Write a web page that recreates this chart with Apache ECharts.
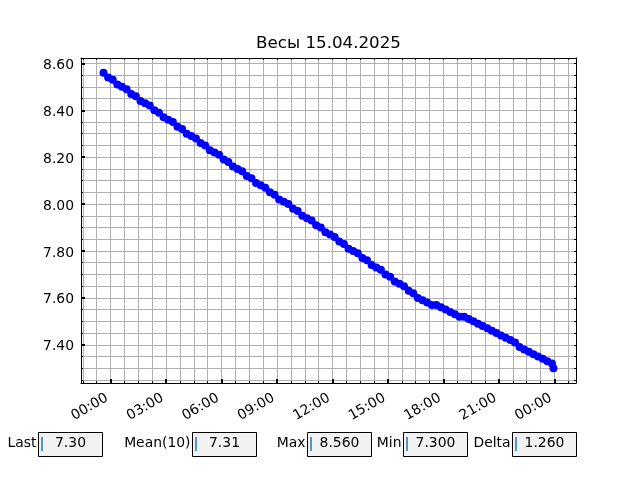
<!DOCTYPE html>
<html><head><meta charset="utf-8">
<script src="https://cdn.jsdelivr.net/npm/echarts@6/dist/echarts.min.js"></script>
<style>html,body{margin:0;padding:0;background:#fff}#c{width:640px;height:480px}</style>
</head><body><div id="c"></div>
<script>
const chartTitle = 'Весы 15.04.2025';
// timestamps "DD HH:MM" (April 2025)
const times = [
 '14 23:37','14 23:52',
 '15 00:07','15 00:22','15 00:37','15 00:52','15 01:07','15 01:22','15 01:37','15 01:52',
 '15 02:07','15 02:22','15 02:37','15 02:52','15 03:07','15 03:22','15 03:37','15 03:52',
 '15 04:07','15 04:22','15 04:37','15 04:52','15 05:07','15 05:22','15 05:37','15 05:52',
 '15 06:07','15 06:22','15 06:37','15 06:52','15 07:07','15 07:22','15 07:37','15 07:52',
 '15 08:07','15 08:22','15 08:37','15 08:52','15 09:07','15 09:22','15 09:37','15 09:52',
 '15 10:07','15 10:22','15 10:37','15 10:52','15 11:07','15 11:22','15 11:37','15 11:52',
 '15 12:07','15 12:22','15 12:37','15 12:52','15 13:07','15 13:22','15 13:37','15 13:52',
 '15 14:07','15 14:22','15 14:37','15 14:52','15 15:07','15 15:22','15 15:37','15 15:52',
 '15 16:07','15 16:22','15 16:37','15 16:52','15 17:07','15 17:22','15 17:37','15 17:52',
 '15 18:07','15 18:22','15 18:37','15 18:52','15 19:07','15 19:22','15 19:37','15 19:52',
 '15 20:07','15 20:22','15 20:37','15 20:52','15 21:07','15 21:22','15 21:37','15 21:52',
 '15 22:07','15 22:22','15 22:37','15 22:52','15 23:07','15 23:22','15 23:37','15 23:52',
 '15 23:57'
];
const weights = [
 8.56, 8.54,
 8.53, 8.51, 8.50, 8.49, 8.47, 8.46, 8.44, 8.43,
 8.42, 8.40, 8.39, 8.37, 8.36, 8.35, 8.33, 8.32,
 8.30, 8.29, 8.28, 8.26, 8.25, 8.23, 8.22, 8.21,
 8.19, 8.18, 8.16, 8.15, 8.14, 8.12, 8.11, 8.09,
 8.08, 8.07, 8.05, 8.04, 8.02, 8.01, 8.00, 7.98,
 7.97, 7.95, 7.94, 7.93, 7.91, 7.90, 7.88, 7.87,
 7.86, 7.84, 7.83, 7.81, 7.80, 7.79, 7.77, 7.76,
 7.74, 7.73, 7.72, 7.70, 7.69, 7.67, 7.66, 7.65,
 7.63, 7.62, 7.60, 7.59, 7.58, 7.57, 7.57, 7.56,
 7.55, 7.54, 7.53, 7.52, 7.52, 7.51, 7.50, 7.49,
 7.48, 7.47, 7.46, 7.45, 7.44, 7.43, 7.42, 7.41,
 7.39, 7.38, 7.37, 7.36, 7.35, 7.34, 7.33, 7.32,
 7.30
];
const xTickHours = [0, 3, 6, 9, 12, 15, 18, 21, 24];
const xTickLabels = ['00:00','03:00','06:00','09:00','12:00','15:00','18:00','21:00','00:00'];
const yTickValues = [7.4, 7.6, 7.8, 8.0, 8.2, 8.4, 8.6];
const statLabels = ['Last', 'Mean(10)', 'Max', 'Min', 'Delta'];
const statValues = ['7.30', '7.31', '8.560', '7.300', '1.260'];

// ---- layout / scales ----
const FONT = '"DejaVu Sans", sans-serif';
const X_MIN = -1.6, X_MAX = 25.167;
const Y_MIN = 7.237, Y_MAX = 8.623;

function toHours(s) {
  const [d, hm] = s.split(' ');
  const [h, m] = hm.split(':').map(Number);
  return (Number(d) - 15) * 24 + h + m / 60;
}
const seriesData = times.map((t, i) => [toHours(t), weights[i]]);

const xMinor = [];
for (let k = -2; k * 0.75 <= X_MAX; k++) { if (k * 0.75 >= X_MIN) xMinor.push(k * 0.75); }
const yMinor = [];
for (let k = 145; k * 0.05 <= Y_MAX; k++) { const v = Math.round(k * 5) / 100; if (v >= Y_MIN) yMinor.push(v); }

const tickLine = {color: '#000', width: 1};
const boxLeft = [38.5, 192.5, 307.5, 403.5, 512.5];
const graphics = [
  {type: 'text', x: 328.5, y: 43.5, style: {text: chartTitle, font: '16.7px ' + FONT, fill: '#000', textAlign: 'center', textVerticalAlign: 'middle'}}
];
statLabels.forEach((lab, i) => {
  const bx = boxLeft[i];
  graphics.push({type: 'rect', shape: {x: bx, y: 432.5, width: 64, height: 24}, style: {fill: '#f2f2f2', stroke: '#000', lineWidth: 1}});
  graphics.push({type: 'line', shape: {x1: bx + 3.5, y1: 437, x2: bx + 3.5, y2: 451}, style: {stroke: '#1f77b4', lineWidth: 1.5}});
  graphics.push({type: 'text', x: bx + 32, y: 443.5, style: {text: statValues[i], font: '13.9px ' + FONT, fill: '#000', textAlign: 'center', textVerticalAlign: 'middle'}});
  graphics.push({type: 'text', x: bx - 2, y: 443.5, style: {text: lab, font: '13.9px ' + FONT, fill: '#000', textAlign: 'right', textVerticalAlign: 'middle'}});
});

const chart = echarts.init(document.getElementById('c'), null, {renderer: 'canvas'});
chart.setOption({
  animation: false,
  backgroundColor: '#fff',
  grid: {left: 81, top: 58, right: 64, bottom: 97, show: false},
  xAxis: [
    {type: 'value', min: X_MIN, max: X_MAX, position: 'bottom',
     axisLine: {show: true, onZero: false, lineStyle: tickLine},
     axisTick: {show: true, inside: true, length: 2, customValues: xMinor, lineStyle: tickLine},
     axisLabel: {show: false},
     splitLine: {show: true, lineStyle: {color: '#b0b0b0', width: 1}}},
    {type: 'value', min: X_MIN, max: X_MAX, position: 'bottom',
     axisLine: {show: false, onZero: false},
     axisTick: {show: true, inside: true, length: 4, customValues: xTickHours, lineStyle: {color: '#000', width: 2}},
     axisLabel: {show: true, customValues: xTickHours, rotate: 30, margin: 12, padding: [0, 4, 0, 0],
       fontSize: 13.9, fontFamily: FONT, color: '#000',
       formatter: v => { const i = xTickHours.indexOf(Math.round(v)); return i >= 0 ? xTickLabels[i] : ''; }},
     splitLine: {show: false}},
    {type: 'value', min: X_MIN, max: X_MAX, position: 'top',
     axisLine: {show: true, onZero: false, lineStyle: tickLine},
     axisTick: {show: true, inside: true, length: 2, customValues: xMinor, lineStyle: tickLine},
     axisLabel: {show: false}, splitLine: {show: false}}
  ],
  yAxis: [
    {type: 'value', min: Y_MIN, max: Y_MAX, position: 'left',
     axisLine: {show: true, onZero: false, lineStyle: tickLine},
     axisTick: {show: true, inside: true, length: 2, customValues: yMinor, lineStyle: tickLine},
     axisLabel: {show: false},
     splitLine: {show: true, lineStyle: {color: '#b0b0b0', width: 1}}},
    {type: 'value', min: Y_MIN, max: Y_MAX, position: 'left',
     axisLine: {show: false, onZero: false},
     axisTick: {show: true, inside: true, length: 4, customValues: yTickValues, lineStyle: {color: '#000', width: 2}},
     axisLabel: {show: true, customValues: yTickValues, margin: 7, verticalAlign: 'top', lineHeight: 4,
       fontSize: 13.9, fontFamily: FONT, color: '#000',
       formatter: v => v.toFixed(2)},
     splitLine: {show: false}},
    {type: 'value', min: Y_MIN, max: Y_MAX, position: 'right',
     axisLine: {show: true, onZero: false, lineStyle: tickLine},
     axisTick: {show: true, inside: true, length: 2, customValues: yMinor, lineStyle: tickLine},
     axisLabel: {show: false}, splitLine: {show: false}}
  ],
  series: [{
    type: 'line', xAxisIndex: 0, yAxisIndex: 0, data: seriesData,
    symbol: 'circle', symbolSize: 8, showSymbol: true,
    itemStyle: {color: '#0000ff'}, lineStyle: {color: '#0000ff', width: 2}, z: 5
  }],
  graphic: graphics
});
</script></body></html>
